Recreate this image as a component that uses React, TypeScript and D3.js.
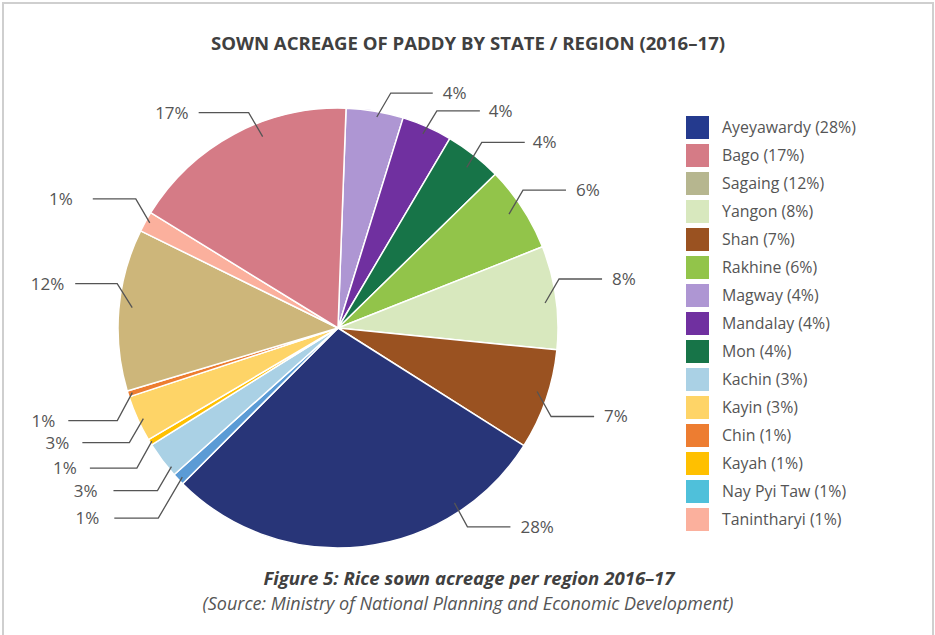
import React from "react";
import * as d3 from "d3";

// Pie order (clockwise from top)
const sliceNames = ["Magway","Mandalay","Mon","Rakhine","Yangon","Shan","Ayeyawardy","Nay Pyi Taw","Kachin","Kayah","Kayin","Chin","Sagaing","Tanintharyi","Bago"];
const sliceValues = [4.2,3.7,4.2,6.3,7.6,7.4,28.5,0.9,2.7,0.45,3.4,0.45,11.9,1.5,16.8];
const sliceLabels = ["4%","4%","4%","6%","8%","7%","28%","1%","3%","1%","3%","1%","12%","1%","17%"];
const sliceColors = ["#AE96D3","#7030A0","#177448","#92C44A","#D8E8BE","#9A5221","#283578","#5B9BD5","#AAD1E5","#FFC000","#FED467","#ED7D31","#CDB67A","#FBB09D","#D57B86"];

// Legend
const legendNames = ["Ayeyawardy","Bago","Sagaing","Yangon","Shan","Rakhine","Magway","Mandalay","Mon","Kachin","Kayin","Chin","Kayah","Nay Pyi Taw","Tanintharyi"];
const legendPct = ["28%","17%","12%","8%","7%","6%","4%","4%","4%","3%","3%","1%","1%","1%","1%"];
const legendColors = ["#243A8E","#D57B86","#B6B68F","#D8E8BE","#9A5221","#92C44A","#AE96D3","#7030A0","#177448","#AAD1E5","#FED467","#ED7D31","#FFC000","#4FC0DA","#FBB09D"];

const title = "SOWN ACREAGE OF PADDY BY STATE / REGION (2016–17)";
const caption = "Figure 5: Rice sown acreage per region 2016–17";
const source = "(Source: Ministry of National Planning and Economic Development)";

// leader layout: t within slice, radius fraction, elbow dx, dy, horizontal length, text gap
const leaderLayout: [number, number, number, number, number, number][] = [
  [0.55, 0.975, 14, -24, 42, 10],
  [0.48, 0.963, 14, -23, 43, 9],
  [0.54, 0.936, 15, -25, 43, 8],
  [0.47, 0.934, 14, -24, 43, 10],
  [0.54, 0.948, 14, -24, 43, 10],
  [0.45, 0.95, 14, 25, 43, 10],
  [0.234, 0.955, 13, 24, 43, 10],
  [0.4, 0.98, -24, 41, 44, 15],
  [0.21, 0.985, -14, 24, 44, 16],
  [0.5, 0.99, -15, 27, 47, 13],
  [0.45, 0.976, -14, 24, 47, 13],
  [0.5, 0.98, -15, 28, 49, 13],
  [0.52, 0.94, -15, -24, 42, 11],
  [0.55, 0.98, -14, -24, 43, 20],
  [0.61, 0.935, -14, -24, 50, 10],
];

export default function App() {
  const W = 935, H = 635;
  const cx = 338, cy = 328, R = 220;
  const start = (2.1 * Math.PI) / 180;
  const pie = d3.pie<number>().sort(null).value((d) => d).startAngle(start).endAngle(start + 2 * Math.PI);
  const arcs = pie(sliceValues);
  const arc = d3.arc<d3.PieArcDatum<number>>().innerRadius(0).outerRadius(R);
  const font = "'Open Sans', 'Noto Sans', sans-serif";

  return (
    <svg width={W} height={H} style={{ position: "absolute", left: 0, top: 0, background: "#fff" }}>
      <rect x={3} y={3} width={930} height={700} fill="#fff" stroke="#cfcfcf" strokeWidth={2} />
      <text x={468} y={50} textAnchor="middle" fontFamily={font} fontWeight={700} fontSize={18.6} fill="#404040">{title}</text>
      <g transform={`translate(${cx},${cy})`}>
        {arcs.map((a, i) => (
          <path key={i} d={arc(a) || ""} fill={sliceColors[i]} stroke="#fff" strokeWidth={1.5} strokeLinejoin="round" />
        ))}
      </g>
      {arcs.map((a, i) => {
        const [t, k, dx, dy, hl, gap] = leaderLayout[i];
        const ang = a.startAngle + t * (a.endAngle - a.startAngle);
        const px = cx + k * R * Math.sin(ang);
        const py = cy - k * R * Math.cos(ang);
        const ex = px + dx, ey = py + dy;
        const right = dx > 0;
        const lx = right ? ex + hl : ex - hl;
        const tx = right ? lx + gap : lx - gap;
        return (
          <g key={"l" + i}>
            <polyline points={`${px},${py} ${ex},${ey} ${lx},${ey}`} fill="none" stroke="#555" strokeWidth={1.3} />
            <text x={tx} y={ey} dy="0.35em" textAnchor={right ? "start" : "end"} fontFamily={font} fontSize={17} fill="#555">{sliceLabels[i]}</text>
          </g>
        );
      })}
      {legendNames.map((n, i) => (
        <g key={"lg" + i} transform={`translate(686,${116 + i * 28})`}>
          <rect width={23} height={23} fill={legendColors[i]} />
          <text x={36} y={11.5} dy="0.35em" fontFamily={font} fontSize={15.9} fill="#555">{`${n} (${legendPct[i]})`}</text>
        </g>
      ))}
      <text x={469} y={585} textAnchor="middle" fontFamily={font} fontWeight={700} fontStyle="italic" fontSize={18.6} fill="#404040">{caption}</text>
      <text x={468} y={610} textAnchor="middle" fontFamily={font} fontStyle="italic" fontSize={18} fill="#555">{source}</text>
    </svg>
  );
}
